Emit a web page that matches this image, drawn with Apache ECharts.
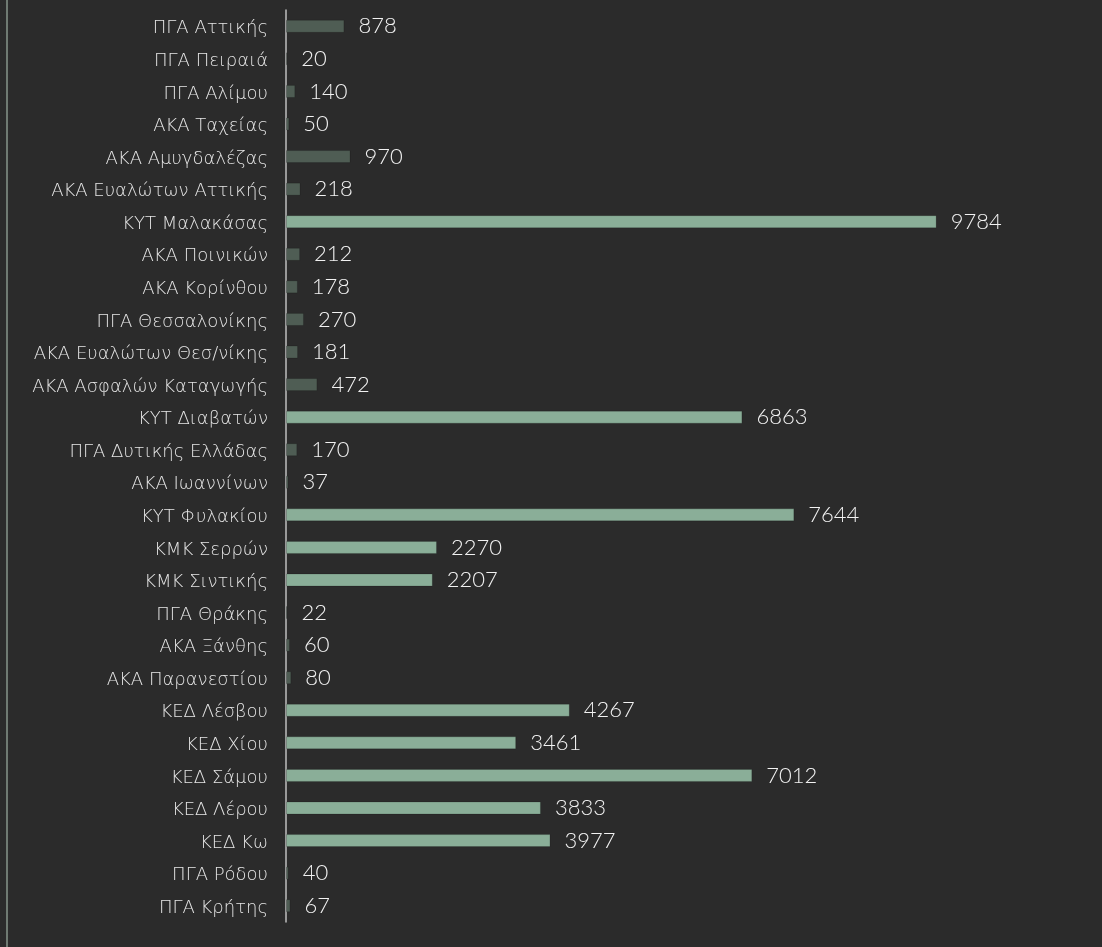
<!DOCTYPE html>
<html>
<head>
<meta charset="utf-8">
<script src="https://cdn.jsdelivr.net/npm/echarts@6/dist/echarts.min.js"></script>
<style>
  html, body { margin: 0; padding: 0; background: #2b2b2b; }
  #main { width: 1102px; height: 947px; }
</style>
</head>
<body>
<div id="main"></div>
<script>
  // δομές
  var categories = [
    'ΠΓΑ Αττικής', 'ΠΓΑ Πειραιά', 'ΠΓΑ Αλίμου', 'ΑΚΑ Ταχείας', 'ΑΚΑ Αμυγδαλέζας',
    'ΑΚΑ Ευαλώτων Αττικής', 'ΚΥΤ Μαλακάσας', 'ΑΚΑ Ποινικών', 'ΑΚΑ Κορίνθου',
    'ΠΓΑ Θεσσαλονίκης', 'ΑΚΑ Ευαλώτων Θεσ/νίκης', 'ΑΚΑ Ασφαλών Καταγωγής',
    'ΚΥΤ Διαβατών', 'ΠΓΑ Δυτικής Ελλάδας', 'ΑΚΑ Ιωαννίνων', 'ΚΥΤ Φυλακίου',
    'ΚΜΚ Σερρών', 'ΚΜΚ Σιντικής', 'ΠΓΑ Θράκης', 'ΑΚΑ Ξάνθης', 'ΑΚΑ Παρανεστίου',
    'ΚΕΔ Λέσβου', 'ΚΕΔ Χίου', 'ΚΕΔ Σάμου', 'ΚΕΔ Λέρου', 'ΚΕΔ Κω', 'ΠΓΑ Ρόδου', 'ΠΓΑ Κρήτης'
  ]
  // αριθμός ατόμων
  var values = [
    878, 20, 140, 50, 970,
    218, 9784, 212, 178,
    270, 181, 472,
    6863, 170, 37, 7644,
    2270, 2207, 22, 60, 80,
    4267, 3461, 7012, 3833, 3977, 40, 67
  ]

  var chart = echarts.init(document.getElementById('main'))

  chart.setOption({
    backgroundColor: '#2b2b2b',
    animation: false,
    graphic: [
      { // αριστερό περίγραμμα
        type: 'rect',
        left: 6,
        top: 0,
        shape: { width: 2, height: 947 },
        style: { fill: '#6f7a72' }
      }
    ],
    grid: {
      left: 286,
      top: 10,
      width: 665,
      height: 912
    },
    xAxis: {
      type: 'value',
      min: 0,
      max: 10000,
      show: false
    },
    yAxis: {
      type: 'category',
      inverse: true,
      data: categories,
      axisLine: {
        show: true,
        lineStyle: { color: '#bfbfbf', width: 1.5 }
      },
      axisTick: { show: false },
      axisLabel: {
        margin: 18,
        formatter: function (v) {
          return '{a|' + v + '}'
        },
        rich: {
          a: {
            color: '#e6e6e6',
            fontFamily: '"DejaVu Sans", sans-serif',
            fontWeight: 200,
            fontSize: 18,
            padding: [5, 0, 0, 0]
          }
        }
      },
      splitLine: { show: false }
    },
    series: [
      {
        type: 'bar',
        data: values,
        barWidth: 13,
        itemStyle: {
          color: function (params) {
            return params.value >= 1000 ? '#8aae98' : '#4f5d54'
          },
          borderColor: 'rgba(0,0,0,0.15)',
          borderWidth: 1
        },
        label: {
          show: true,
          position: 'right',
          distance: 14,
          color: '#f2f2f2',
          fontFamily: 'Lato, sans-serif',
          fontWeight: 300,
          fontSize: 22
        }
      }
    ]
  })
</script>
</body>
</html>
